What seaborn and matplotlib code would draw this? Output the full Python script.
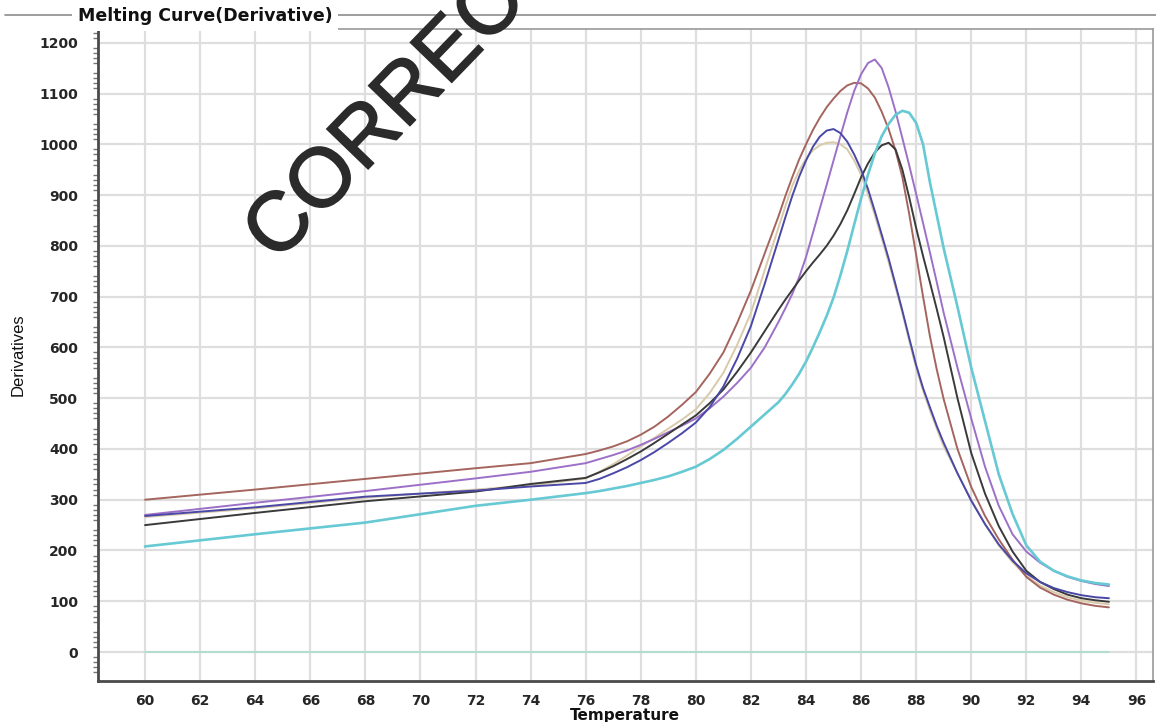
import matplotlib
matplotlib.use("Agg")
import matplotlib.pyplot as plt
from matplotlib.lines import Line2D
from matplotlib.ticker import MultipleLocator, FuncFormatter
import matplotlib.patheffects as pe
import pandas as pd
import seaborn as sns

# Temperature grid (degrees C) at which each derivative trace is sampled;
# finer steps across the melting peaks
temperature = [60, 64, 68, 72, 74,
               76, 76.5, 77, 77.5, 78, 78.5, 79, 79.5, 80, 80.5, 81, 81.5, 82, 82.5,
               83, 83.25, 83.5, 83.75, 84, 84.25, 84.5, 84.75, 85, 85.25, 85.5, 85.75,
               86, 86.25, 86.5, 86.75, 87, 87.25, 87.5, 87.75, 88, 88.25, 88.5, 88.75, 89,
               89.5, 90, 90.5, 91, 91.5, 92, 92.5, 93, 93.5, 94, 94.5, 95]

# -dF/dT traces, one list per well
well_brown = [300, 320, 341, 362, 372,
              390, 397, 405, 415, 428, 444, 464, 487, 512, 548, 590, 648, 712, 785,
              858, 898, 935, 970, 1000, 1028, 1052, 1073, 1090, 1105, 1116, 1121,
              1120, 1110, 1092, 1064, 1030, 988, 935, 862, 782, 700, 622, 556, 498,
              400, 325, 268, 222, 182, 148, 127, 113, 103, 96, 91, 88]
well_tan = [266, 283, 304, 320, 328,
            342, 355, 370, 387, 405, 422, 440, 458, 478, 510, 550, 605, 668, 752,
            836, 878, 918, 948, 972, 988, 998, 1003, 1004, 1000, 990, 968,
            940, 902, 860, 815, 768, 718, 668, 612, 560, 515, 476, 440, 405,
            352, 300, 252, 210, 177, 150, 131, 118, 108, 101, 97, 94]
well_blue = [268, 285, 306, 318, 326,
             333, 341, 352, 364, 378, 394, 412, 431, 452, 482, 523, 578, 642, 725,
             812, 856, 898, 936, 968, 995, 1015, 1027, 1030, 1022, 1005, 980,
             950, 912, 868, 822, 775, 724, 672, 618, 565, 520, 482, 445, 412,
             352, 298, 252, 212, 180, 155, 138, 126, 118, 112, 108, 106]
well_black = [250, 274, 297, 316, 331,
              343, 354, 366, 380, 395, 412, 430, 448, 466, 490, 517, 552, 590, 632,
              674, 694, 713, 732, 750, 767, 783, 800, 820, 843, 870, 902,
              935, 962, 984, 998, 1003, 990, 950, 895, 835, 780, 728, 675, 620,
              500, 392, 312, 248, 198, 160, 138, 124, 113, 106, 102, 99]
well_purple = [270, 294, 317, 342, 355,
               372, 380, 388, 397, 408, 420, 433, 446, 460, 480, 503, 530, 560, 600,
               650, 677, 705, 738, 778, 825, 873, 920, 968, 1016, 1063, 1105,
               1138, 1160, 1167, 1150, 1112, 1065, 1012, 958, 902, 845, 787, 728, 668,
               560, 460, 365, 288, 232, 198, 176, 160, 148, 140, 134, 130]
well_cyan = [208, 232, 255, 288, 300,
             313, 317, 322, 327, 333, 339, 346, 355, 365, 380, 398, 420, 444, 468,
             492, 508, 527, 548, 572, 600, 630, 662, 698, 742, 790, 842,
             893, 940, 982, 1016, 1040, 1058, 1066, 1062, 1042, 1000, 925, 860, 795,
             680, 560, 455, 350, 272, 210, 178, 160, 149, 141, 136, 133]
no_template = [0] * len(temperature)

traces = [
    (well_tan, "#d9caa9", 1.4),
    (well_brown, "#a5655f", 1.4),
    (well_purple, "#9d70c8", 1.4),
    (well_black, "#3a3a3a", 1.4),
    (well_blue, "#4a48a6", 1.4),
    (well_cyan, "#66c9d3", 1.9),
    (no_template, "#a9dccb", 1.2),
]

sns.set_theme(style="white")
plt.rcParams["font.family"] = ["DejaVu Sans"]

fig = plt.figure(figsize=(11.56, 7.22), dpi=100)
ax = fig.add_axes([0.0845, 0.0568, 0.9129, 0.9030])

for values, colour, width in traces:
    df = pd.DataFrame({"Temperature": temperature, "Derivatives": values})
    sns.lineplot(data=df, x="Temperature", y="Derivatives", color=colour,
                 linewidth=width, ax=ax, zorder=3)

ax.set_xlim(58.28, 96.6)
ax.set_ylim(-57, 1227)

# x axis: labelled every 2 degrees
ax.xaxis.set_major_locator(MultipleLocator(2))
ax.tick_params(axis="x", which="major", direction="out", length=6.5, width=1.5,
               color="#444444", labelsize=10, pad=3)
for lab in ax.get_xticklabels():
    lab.set_fontweight("bold")

# y axis: labels every 100, medium ticks at 50, small ticks every 10
ax.yaxis.set_major_locator(MultipleLocator(50))
ax.yaxis.set_minor_locator(MultipleLocator(10))
ax.yaxis.set_major_formatter(FuncFormatter(
    lambda v, p: f"{int(round(v))}" if int(round(v)) % 100 == 0 else ""))
ax.tick_params(axis="y", which="major", direction="out", length=11, width=1.5,
               color="#555555", labelsize=10, pad=3)
ax.tick_params(axis="y", which="minor", direction="out", length=3.5, width=1.0,
               color="#777777", left=True)
for lab in ax.get_yticklabels():
    lab.set_fontweight("bold")

ax.grid(True, which="major", axis="both", color="#dedede", linewidth=1.6)
ax.set_axisbelow(True)

fig.canvas.draw()
ylocs = ax.yaxis.get_majorticklocs()
for tick, loc in zip(ax.yaxis.get_major_ticks(), ylocs):
    if int(round(loc)) % 100 != 0:
        tick.tick1line.set_markersize(6.5)
        tick.gridline.set_visible(False)
xlocs = ax.xaxis.get_majorticklocs()
for tick, loc in zip(ax.xaxis.get_major_ticks(), xlocs):
    if loc < 60:
        tick.tick1line.set_visible(False)
        tick.gridline.set_visible(False)
        tick.label1.set_visible(False)

for side in ("left", "bottom"):
    ax.spines[side].set_color("#4a4a4a")
    ax.spines[side].set_linewidth(2.0)
for side in ("top", "right"):
    ax.spines[side].set_color("#9a9a9a")
    ax.spines[side].set_linewidth(1.2)

ax.set_xlabel("Temperature", fontweight="bold", fontsize=11, labelpad=0,
              color="#111111")
ax.set_ylabel("Derivatives", fontsize=12, family="Liberation Sans", labelpad=10,
              color="#111111")

# Header rule with the chart title set into it
fig.add_artist(Line2D([5 / 1156, 1.0], [1 - 15 / 722] * 2, color="#8c8c8c",
                      linewidth=1.2, zorder=1))
fig.text(78 / 1156, 1 - 16 / 722, "Melting Curve(Derivative)", fontsize=12.5,
         fontweight="bold", ha="left", va="center", color="#111111", zorder=2,
         bbox=dict(facecolor="white", edgecolor="none", pad=4))

# Stamp, slightly thickened regular weight
fig.text(404 / 1156, 1 - 100 / 722, "CORRECT", rotation=46, rotation_mode="anchor",
         ha="center", va="center", fontsize=60, family="Liberation Sans",
         color="#2b2b2b", zorder=10,
         path_effects=[pe.withStroke(linewidth=1.2, foreground="#2b2b2b",
                                     joinstyle="miter")])

fig.savefig("out.png", dpi=100)
